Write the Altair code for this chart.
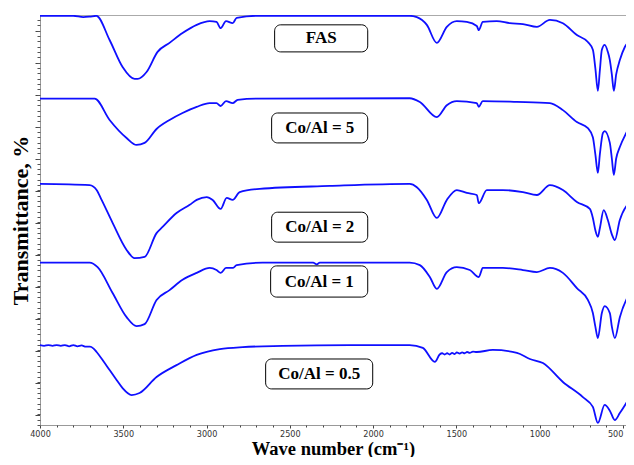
import altair as alt
import pandas as pd

# ---------------- data ----------------
series_names = ["FAS", "Co/Al = 5", "Co/Al = 2", "Co/Al = 1", "Co/Al = 0.5"]

fas_wn = [4000, 3800, 3740, 3702, 3662, 3582, 3504, 3432, 3414, 3360, 3294, 3222, 3144, 3059, 2981,
          2940, 2915, 2883, 2843, 2819, 2699, 2400, 2140, 1780, 1737, 1677, 1617, 1557, 1497, 1437,
          1377, 1365, 1341, 1257, 1179, 1100, 1016, 938, 860, 776, 710, 680, 665, 650, 638, 626, 609,
          590, 578, 566, 554, 540, 518, 488, 440]
fas_t = [99.8, 99.8, 99.5, 99.6, 99.8, 93.9, 87.3, 84.4, 84.4, 86.1, 91.0, 93.2, 95.6, 97.6, 98.5,
         98.3, 96.8, 98.5, 98.0, 99.3, 99.8, 99.8, 99.8, 99.8, 99.5, 97.6, 93.2, 97.1, 98.5, 98.3,
         97.3, 96.3, 98.3, 98.5, 98.0, 97.8, 97.1, 98.8, 98.0, 95.1, 93.4, 91.5, 87.0, 81.5, 86.5,
         91.5, 92.7, 91.0, 89.0, 85.5, 81.5, 85.5, 89.0, 92.2, 94.1]

co5_wn = [4000, 3672, 3582, 3480, 3420, 3372, 3300, 3222, 3144, 3059, 2981, 2940, 2915, 2883, 2843,
          2813, 2700, 1780, 1719, 1617, 1557, 1497, 1377, 1365, 1341, 1136, 938, 860, 776, 710, 680,
          665, 650, 638, 620, 609, 578, 566, 554, 540, 518, 476, 440]
co5_t = [79.6, 79.6, 74.4, 70.0, 68.3, 68.8, 72.2, 74.4, 76.1, 77.6, 78.5, 78.5, 77.8, 79.0, 78.5,
         79.3, 79.6, 79.7, 78.8, 75.1, 78.0, 79.0, 78.5, 77.6, 79.0, 78.8, 78.5, 76.8, 73.9, 72.4, 70.2,
         66.0, 61.5, 66.0, 71.2, 71.7, 68.8, 65.0, 61.0, 65.0, 67.8, 71.5, 74.4]

co2_wn = [4000, 3702, 3660, 3630, 3564, 3480, 3432, 3372, 3300, 3264, 3180, 3101, 3059, 2999, 2963,
          2915, 2879, 2843, 2801, 2681, 2260, 1780, 1737, 1677, 1617, 1557, 1497, 1437, 1377, 1365,
          1317, 1221, 1100, 1016, 938, 860, 776, 698, 680, 665, 650, 638, 615, 590, 566, 548, 518, 440]
co2_t = [58.8, 58.5, 57.3, 54.9, 49.3, 42.7, 40.7, 41.0, 46.8, 48.3, 51.7, 53.7, 54.9, 55.6, 54.9,
         52.7, 55.4, 54.9, 56.8, 57.6, 58.3, 58.8, 58.0, 54.9, 50.5, 54.9, 57.3, 56.6, 56.1, 54.1,
         57.3, 57.3, 56.8, 56.1, 58.5, 57.3, 54.4, 52.7, 50.5, 47.5, 45.9, 48.0, 52.4, 50.0, 46.5,
         45.1, 50.0, 54.9]

co1_wn = [4000, 3702, 3654, 3564, 3480, 3420, 3372, 3300, 3222, 3144, 3059, 2981, 2940, 2915, 2883,
          2843, 2819, 2663, 2360, 2338, 2320, 1780, 1719, 1659, 1617, 1557, 1497, 1419, 1365, 1341,
          1221, 1100, 1016, 938, 860, 776, 710, 680, 665, 650, 626, 609, 578, 566, 548, 518, 440]
co1_t = [39.6, 39.6, 38.5, 32.2, 26.3, 24.1, 24.6, 30.5, 32.9, 35.4, 37.1, 38.3, 37.8, 37.1, 38.3,
         38.3, 39.0, 39.6, 39.6, 39.2, 39.6, 39.6, 39.0, 36.1, 33.2, 37.3, 38.5, 37.8, 36.1, 38.3,
         38.3, 37.8, 37.3, 38.3, 37.1, 33.4, 30.5, 27.3, 24.0, 21.2, 27.3, 29.0, 27.3, 24.0, 21.2,
         26.3, 33.4]

co05_wn = [4000, 3975, 3950, 3925, 3900, 3875, 3850, 3825, 3800, 3775, 3750, 3725, 3700, 3680, 3660,
           3620, 3582, 3540, 3504, 3450, 3402, 3300, 3180, 3059, 2920, 2783, 2543, 2140, 1780, 1701,
           1629, 1600, 1585, 1570, 1555, 1540, 1525, 1510, 1497, 1480, 1465, 1450, 1435, 1420, 1400,
           1377, 1281, 1136, 1058, 980, 860, 740, 680, 650, 609, 578, 548, 518, 440]
co05_t = [19.5, 19.3, 19.5, 19.3, 19.5, 19.3, 19.5, 19.2, 19.5, 19.2, 19.4, 19.1, 19.1, 18.7, 17.8,
          15.6, 13.4, 11.0, 9.0, 7.3, 7.8, 11.7, 14.6, 17.1, 18.5, 19.0, 19.3, 19.5, 19.5, 18.8,
          15.4, 17.2, 17.5, 17.2, 17.5, 17.2, 17.6, 17.3, 17.7, 17.4, 17.7, 17.5, 17.8, 17.6, 17.9,
          17.8, 18.3, 17.6, 16.1, 15.1, 10.5, 6.8, 4.4, 0.5, 4.9, 3.5, 1.2, 2.9, 8.0]

label_text = ["FAS", "Co/Al = 5", "Co/Al = 2", "Co/Al = 1", "Co/Al = 0.5"]
label_wn = [2311, 2320, 2320, 2323, 2323]
label_t = [94.3, 72.4, 48.3, 35.0, 12.4]
box_wn_left = [2591, 2609, 2609, 2615, 2645]
box_wn_right = [2032, 2032, 2032, 2032, 2002]
box_t_top = [97.6, 76.1, 51.9, 38.8, 16.1]
box_t_bottom = [91.0, 68.8, 44.6, 31.2, 8.8]

x_major_ticks = [4000, 3500, 3000, 2500, 2000, 1500, 1000, 500]
x_minor_ticks = list(range(500, 4001, 100))
y_major_ticks = [2.4 + 7.8 * i for i in range(13)]
y_minor_ticks = [1.3 * i for i in range(77)]

# ---------------- tables ----------------
all_wn = [fas_wn, co5_wn, co2_wn, co1_wn, co05_wn]
all_t = [fas_t, co5_t, co2_t, co1_t, co05_t]
rows = []
for name, wns, ts in zip(series_names, all_wn, all_t):
    for i, (w, t) in enumerate(zip(wns, ts)):
        rows.append({"series": name, "wn": w, "t": t, "order": i})
spectra = pd.DataFrame(rows)

labels = pd.DataFrame({
    "text": label_text, "wn": label_wn, "t": label_t,
    "x1": box_wn_left, "x2": box_wn_right, "y1": box_t_top, "y2": box_t_bottom,
})

xscale = alt.Scale(domain=[4000, 481], nice=False, zero=False)
yscale = alt.Scale(domain=[0, 100], nice=False, zero=False)

x_axis = alt.Axis(
    orient="bottom", values=x_major_ticks, format="d",
    labelOverlap=False, labelFlush=False,
    labelAlign={"expr": "datum.value === 500 ? 'right' : 'center'"},
    tickSize=3, tickColor="#444", domainColor="#999", grid=False,
    labelFont="DejaVu Sans Condensed, Liberation Sans Narrow, Liberation Sans",
    labelFontSize=9, labelColor="#333", labelPadding=1,
    title="Wave number (cm⁻¹)", titleFont="Liberation Serif", titleFontWeight="bold",
    titleFontSize=18.5, titleColor="black", titleBaseline="alphabetic", titleY=29,
)
x_axis_minor = alt.Axis(
    orient="bottom", values=x_minor_ticks, labels=False, title=None, domain=False,
    tickSize=2, tickColor="#444", grid=False,
)
x_axis_top = alt.Axis(
    orient="top", labels=False, ticks=False, title=None, domainColor="#aaa", grid=False,
)
y_axis = alt.Axis(
    orient="left", values=y_major_ticks, labels=False, tickSize=5, tickColor="#444",
    domainColor="#999", grid=False,
    title="Transmittance, %", titleFont="Liberation Serif", titleFontWeight="bold",
    titleFontSize=22, titleColor="black", titlePadding=2,
)
y_axis_minor = alt.Axis(
    orient="left", values=y_minor_ticks, labels=False, title=None, domain=False,
    tickSize=3, tickColor="#555", grid=False,
)

lines = alt.Chart(spectra).mark_line(
    color="#0f0fff", strokeWidth=1.8, clip=True, interpolate="monotone"
).encode(
    x=alt.X("wn:Q", scale=xscale, axis=x_axis),
    y=alt.Y("t:Q", scale=yscale, axis=y_axis),
    detail="series:N",
    order="order:Q",
)

boxes = alt.Chart(labels).mark_rect(
    cornerRadius=6, fill="white", stroke="black", strokeWidth=1
).encode(
    x=alt.X("x1:Q", scale=xscale, axis=x_axis_minor), x2="x2:Q",
    y=alt.Y("y1:Q", scale=yscale, axis=y_axis_minor), y2="y2:Q",
)

texts = alt.Chart(labels).mark_text(
    font="Liberation Serif", fontWeight="bold", fontSize=17, color="black", baseline="middle"
).encode(
    x=alt.X("wn:Q", scale=xscale, axis=x_axis_top),
    y=alt.Y("t:Q", scale=yscale, axis=None),
    text="text:N",
)

chart = alt.layer(lines, boxes, texts).resolve_axis(
    x="independent", y="independent"
).properties(
    width=586, height=410,
    autosize=alt.AutoSizeParams(type="none"),
    padding={"left": 32, "top": 7, "right": 0, "bottom": 32},
).configure_view(stroke=None)

chart.save("out.html", embed_options={"renderer": "svg", "actions": False})
